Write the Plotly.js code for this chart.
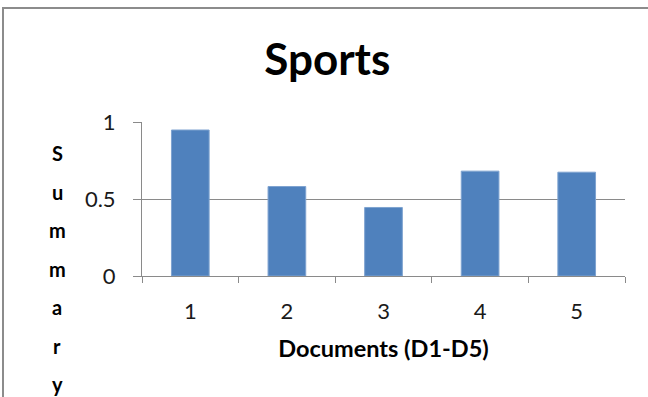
<!DOCTYPE html>
<html>
<head>
<meta charset="utf-8">
<script src="https://cdn.plot.ly/plotly-3.0.1.min.js"></script>
<style>
  html, body { margin: 0; padding: 0; background: #fff; overflow: hidden; }
  #frame { position: absolute; left: 2px; top: 7px; width: 700px; height: 500px;
           border-left: 2px solid #8c8c8c; border-top: 2px solid #8c8c8c; }
  #chart { position: absolute; left: 0; top: 0; width: 648px; height: 397px; }
</style>
</head>
<body>
<div id="frame"></div>
<div id="chart"></div>
<script>
// Summary scores per document
const documents = ['1', '2', '3', '4', '5'];
const summaryScores = [0.948, 0.581, 0.445, 0.681, 0.674];
const yTicks = [0, 0.5, 1];
const yTitleLetters = ['S', 'u', 'm', 'm', 'a', 'r', 'y'];

const FONT = 'Lato, "Open Sans", sans-serif';
const AXIS_GREY = '#8a8a8a';

const trace = {
  type: 'bar',
  x: documents,
  y: summaryScores,
  marker: { color: '#4f81bd', line: { color: '#7ea3d0', width: 1 } },
  hoverinfo: 'x+y'
};

// Vertical, one-letter-per-line axis title
const letterAnnotations = yTitleLetters.map((ch, i) => ({
  text: '<b>' + ch + '</b>',
  xref: 'paper', yref: 'paper',
  x: 0, y: 1,
  xanchor: 'center', yanchor: 'middle',
  xshift: -85, yshift: -31 - i * 38.5,
  showarrow: false,
  font: { family: FONT, size: 20, color: '#000' }
}));

const layout = {
  width: 648, height: 397,
  margin: { l: 142, r: 23, t: 122, b: 121 },
  paper_bgcolor: 'rgba(0,0,0,0)',
  plot_bgcolor: 'rgba(0,0,0,0)',
  bargap: 0.61,
  showlegend: false,
  title: {
    text: '<b>Sports</b>',
    font: { family: FONT, size: 44, color: '#000' },
    x: 0.505, xanchor: 'center',
    y: 0.85, yanchor: 'middle'
  },
  xaxis: {
    type: 'category',
    tickson: 'boundaries',
    ticks: 'outside', ticklen: 6, tickcolor: AXIS_GREY, tickwidth: 1,
    showline: true, linecolor: AXIS_GREY, linewidth: 1,
    showgrid: false, zeroline: false,
    ticklabelstandoff: 16,
    tickfont: { family: FONT, size: 22, color: '#1a1a1a' },
    title: {
      text: '<b>Documents (D1-D5)</b>',
      font: { family: FONT, size: 23.5, color: '#000' },
      standoff: 17
    },
    fixedrange: true
  },
  yaxis: {
    range: [0, 1],
    tickvals: yTicks,
    ticks: 'outside', ticklen: 8, tickcolor: AXIS_GREY, tickwidth: 1,
    showline: true, linecolor: AXIS_GREY, linewidth: 1,
    showgrid: true, gridcolor: AXIS_GREY, gridwidth: 1,
    zeroline: false,
    ticklabelstandoff: 13,
    tickfont: { family: FONT, size: 22, color: '#1a1a1a' },
    fixedrange: true
  },
  annotations: letterAnnotations
};

Plotly.newPlot('chart', [trace], layout, { displayModeBar: false, staticPlot: true });
</script>
</body>
</html>
